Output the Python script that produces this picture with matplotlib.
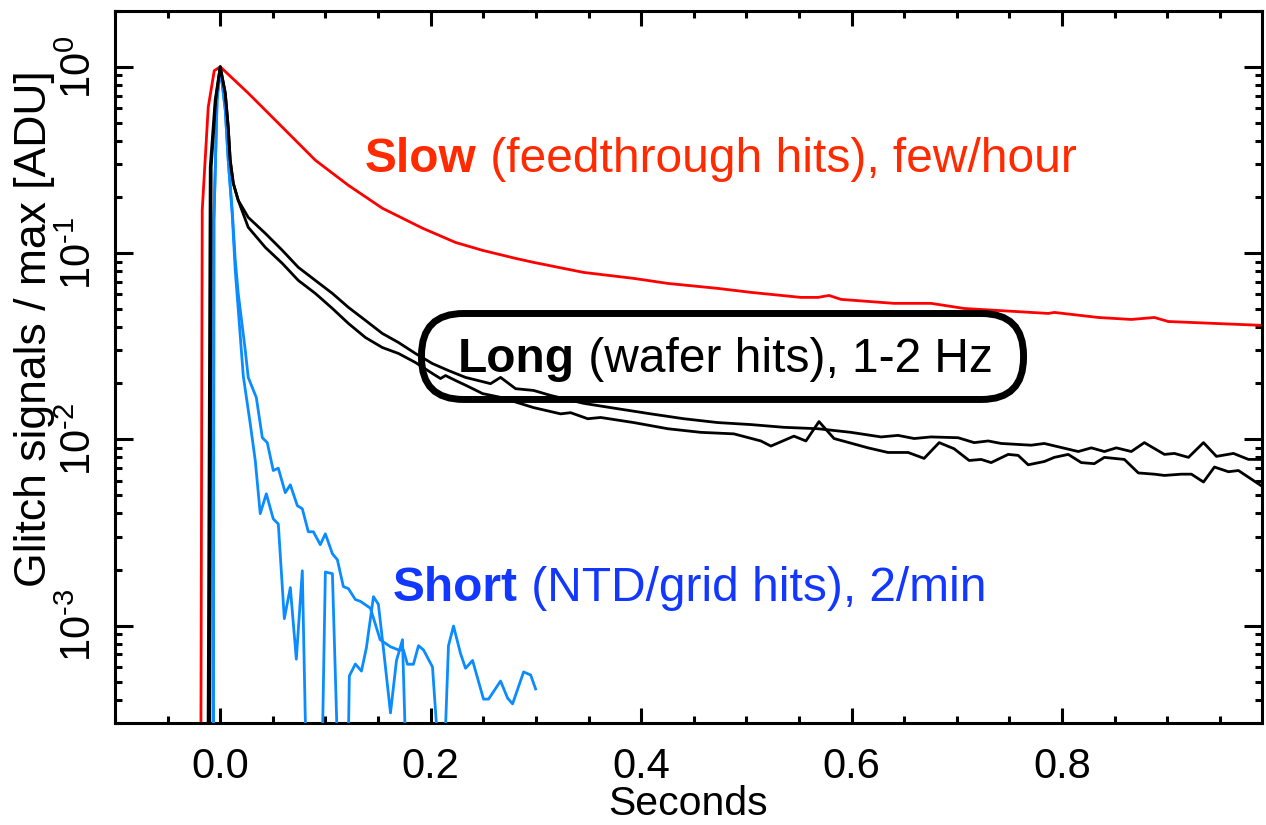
import numpy as np
import matplotlib
matplotlib.use("Agg")
import matplotlib.pyplot as plt
from matplotlib.ticker import MultipleLocator, LogLocator, FuncFormatter, NullFormatter
from matplotlib.patches import FancyBboxPatch
from matplotlib.transforms import offset_copy

plt.rcParams['font.family'] = ['Liberation Sans', 'DejaVu Sans']
plt.rcParams['mathtext.fontset'] = 'custom'
plt.rcParams['mathtext.rm'] = 'Liberation Sans'
plt.rcParams['mathtext.it'] = 'Liberation Sans:italic'
plt.rcParams['mathtext.bf'] = 'Liberation Sans:bold'

# ---------------- data (seconds, normalised signal) ----------------
slow_t = [-0.019, -0.0171, -0.0114, -0.0057, 0.0, 0.0266, 0.059, 0.0904, 0.1218, 0.1541,
          0.1922, 0.2236, 0.2493, 0.2807, 0.2978, 0.3454, 0.393, 0.4253, 0.4729, 0.5043,
          0.5519, 0.568, 0.5785, 0.59, 0.6156, 0.6403, 0.6755, 0.707, 0.7545, 0.7869,
          0.7926, 0.8344, 0.8658, 0.8877, 0.901, 0.9448, 0.99]
slow_v = [1e-5, 0.170, 0.607, 0.952, 1.0, 0.722, 0.474, 0.315, 0.231, 0.174,
          0.136, 0.114, 0.1034, 0.0936, 0.0891, 0.0787, 0.0731, 0.0687, 0.0646, 0.0615,
          0.0578, 0.0578, 0.0592, 0.0564, 0.055, 0.0537, 0.0537, 0.0504, 0.0486, 0.0474,
          0.048, 0.0451, 0.044, 0.0451, 0.0429, 0.0419, 0.0409]

long1_t = [-0.0125, -0.0095, -0.0048, 0.0, 0.0048, 0.0076, 0.0095, 0.0124, 0.0171, 0.0266,
           0.0428, 0.059, 0.0742, 0.0904, 0.1066, 0.1218, 0.138, 0.1541, 0.1694, 0.1855,
           0.2017, 0.2169, 0.2331, 0.2493, 0.2569, 0.2664, 0.2807, 0.2978, 0.314, 0.3454,
           0.3777, 0.4091, 0.4405, 0.4729, 0.5043, 0.5357, 0.568, 0.5994, 0.628, 0.6441,
           0.6594, 0.6755, 0.7012, 0.7165, 0.7298, 0.7422, 0.7707, 0.7831, 0.8154, 0.8278,
           0.8402, 0.8516, 0.8658, 0.8782, 0.8973, 0.9068, 0.9201, 0.9344, 0.9467, 0.9629,
           0.9772, 0.99]
long1_v = [1e-5, 0.289, 0.662, 1.0, 0.722, 0.474, 0.315, 0.237, 0.192, 0.1555,
           0.1276, 0.1034, 0.0838, 0.0713, 0.0607, 0.0511, 0.0435, 0.037, 0.0331, 0.0289,
           0.0255, 0.0234, 0.0215, 0.0204, 0.0199, 0.0215, 0.0187, 0.0183, 0.0172, 0.0156,
           0.0146, 0.0137, 0.0129, 0.0123, 0.0120, 0.0116, 0.0114, 0.0109, 0.0103, 0.0105,
           0.0101, 0.0103, 0.0102, 0.0096, 0.0098, 0.0095, 0.0093, 0.0095, 0.0086, 0.0090,
           0.0086, 0.0090, 0.0086, 0.0096, 0.0083, 0.0084, 0.0080, 0.0096, 0.0081, 0.0084,
           0.0078, 0.0078]

long2_t = [-0.0105, -0.0086, -0.0043, 0.0, 0.0048, 0.0076, 0.0095, 0.0124, 0.0171, 0.0266,
           0.0428, 0.059, 0.0742, 0.0904, 0.1066, 0.1218, 0.138, 0.1541, 0.1694, 0.1855,
           0.2017, 0.2093, 0.2141, 0.2236, 0.235, 0.2493, 0.2664, 0.2978, 0.3235, 0.333,
           0.3492, 0.3616, 0.393, 0.4253, 0.4567, 0.4881, 0.5138, 0.5233, 0.5452, 0.5566,
           0.569, 0.5833, 0.6156, 0.6346, 0.6537, 0.6689, 0.6832, 0.6974, 0.7117, 0.7231,
           0.7326, 0.7488, 0.7583, 0.7678, 0.7831, 0.7926, 0.8059, 0.8183, 0.8306, 0.8402,
           0.8592, 0.8725, 0.8877, 0.8973, 0.9134, 0.9229, 0.9344, 0.9448, 0.9581, 0.9676,
           0.99]
long2_v = [1e-5, 0.289, 0.662, 1.0, 0.722, 0.474, 0.315, 0.237, 0.192, 0.1375,
           0.1073, 0.088, 0.0713, 0.0607, 0.0504, 0.0419, 0.0352, 0.0311, 0.0289, 0.02585,
           0.02255, 0.0212, 0.022, 0.0207, 0.0193, 0.0176, 0.0168, 0.0148, 0.0137, 0.0139,
           0.0129, 0.0131, 0.0123, 0.0114, 0.0109, 0.0107, 0.0098, 0.0092, 0.0104, 0.0098,
           0.01245, 0.0101, 0.0090, 0.0085, 0.0085, 0.0079, 0.0096, 0.0089, 0.0077, 0.0078,
           0.0075, 0.0083, 0.0082, 0.0073, 0.0076, 0.0080, 0.0083, 0.0075, 0.0074, 0.0080,
           0.0078, 0.0066, 0.0065, 0.0064, 0.0065, 0.0065, 0.0059, 0.0071, 0.0067, 0.0068,
           0.0056]

short1_t = [-0.0067, -0.006, -0.003, 0.0, 0.0048, 0.0076, 0.0114, 0.0143, 0.0171, 0.0238,
            0.0266, 0.0343, 0.040, 0.0447, 0.0504, 0.0552, 0.0618, 0.0666, 0.0733, 0.078,
            0.0837, 0.0885, 0.0951, 0.0999, 0.1066, 0.1113, 0.117, 0.1218, 0.1284, 0.1332,
            0.1427, 0.152, 0.1618, 0.1694, 0.1741, 0.1779, 0.1836, 0.1884, 0.1932, 0.2017,
            0.2112, 0.2169, 0.2217, 0.2283, 0.2331, 0.2398, 0.2502, 0.255, 0.2664, 0.2731,
            0.2778, 0.2883, 0.295, 0.2997]
short1_v = [1e-5, 0.15, 0.66, 1.0, 0.585, 0.315, 0.17, 0.0914, 0.0607, 0.03,
            0.0215, 0.01676, 0.0102, 0.0096, 0.0068, 0.0070, 0.00517, 0.0057, 0.0044, 0.00424,
            0.00319, 0.00319, 0.00272, 0.00311, 0.00243, 0.00226, 0.00162, 0.00158, 0.00138, 0.00135,
            0.00124, 0.00084, 0.00077, 0.00074, 0.00074, 0.00062, 0.00062, 0.00078, 0.00074, 0.0006,
            1e-4, 0.00078, 0.000995, 0.00071, 0.00059, 0.00065, 0.000403, 0.000403, 0.000504, 0.000408,
            0.00038, 0.000564, 0.000543, 0.000457]

short2_t = [-0.0067, -0.006, -0.003, 0.0, 0.0048, 0.0076, 0.0114, 0.0143, 0.0171, 0.0219,
            0.0285, 0.0333, 0.038, 0.0438, 0.0504, 0.0552, 0.0609, 0.0666, 0.0723, 0.078,
            0.0837, 0.0894, 0.095, 0.0999, 0.1066, 0.1132, 0.118, 0.1227, 0.1284, 0.1342,
            0.1389, 0.1456, 0.1503, 0.1551, 0.1618, 0.1675, 0.1732, 0.1779]
short2_v = [1e-5, 0.15, 0.66, 1.0, 0.585, 0.315, 0.16, 0.08, 0.05, 0.0219,
            0.01215, 0.00768, 0.00399, 0.0051, 0.00374, 0.00351, 0.00109, 0.0016, 0.00066, 0.00197,
            5e-5, 1e-5, 5e-5, 0.00194, 0.0019, 1e-4, 1e-5, 0.000537, 0.000622, 0.00057,
            0.00076, 0.00143, 0.0013, 0.00075, 0.00034, 0.00065, 0.00084, 1e-4]

labels = {
    "slow": ("Slow", " (feedthrough hits), few/hour"),
    "long": ("Long", " (wafer hits), 1-2 Hz"),
    "short": ("Short", " (NTD/grid hits), 2/min"),
}
xlabel = "Seconds"
ylabel = "Glitch signals / max [ADU]"

RED = "#ff0000"
RED_TXT = "#ff2a00"
BLUE = "#0a8cff"
BLUE_TXT = "#1238ff"

# ---------------- figure ----------------
W, H = 1266, 825
fig = plt.figure(figsize=(W / 100, H / 100), dpi=100)
ax = fig.add_axes([115 / W, 1 - 723 / H, 1147 / W, 712.3 / H])

lw = 2.0
ax.plot(slow_t, slow_v, color=RED, lw=lw, zorder=2)
ax.plot(short1_t, short1_v, color=BLUE, lw=lw, zorder=3)
ax.plot(short2_t, short2_v, color=BLUE, lw=lw, zorder=3)
ax.plot(long1_t, long1_v, color="black", lw=lw, zorder=4)
ax.plot(long2_t, long2_v, color="black", lw=lw, zorder=4)

ax.set_yscale("log")
ax.set_xlim(-0.1, 0.99)
ax.set_ylim(3e-4, 2.0)


def ylab(v, p):
    e = int(round(np.log10(v)))
    es = ("\u2010%d" % abs(e)) if e < 0 else "%d" % e
    return r"$\mathregular{10^{%s}}$" % es


ax.xaxis.set_major_locator(MultipleLocator(0.2))
ax.xaxis.set_minor_locator(MultipleLocator(0.05))
ax.xaxis.set_major_formatter(FuncFormatter(lambda v, p: f"{0.0 if abs(v) < 1e-9 else v:.1f}"))
ax.yaxis.set_major_locator(LogLocator(base=10))
ax.yaxis.set_minor_locator(LogLocator(base=10, subs=np.arange(2, 10)))
ax.yaxis.set_minor_formatter(NullFormatter())
ax.yaxis.set_major_formatter(FuncFormatter(ylab))

for s in ax.spines.values():
    s.set_linewidth(2.2)
ax.tick_params(which="both", direction="in", top=True, right=True, width=2.2,
               labelsize=30, colors="black")
ax.tick_params(axis="x", which="major", length=10.5, pad=17)
ax.tick_params(axis="x", which="minor", length=5)
ax.tick_params(axis="y", which="major", length=13, pad=11, labelrotation=90)
ax.tick_params(axis="y", which="minor", length=5)
for lab in ax.get_yticklabels():
    lab.set_va("center")

ax.set_xlabel(xlabel, fontsize=29.5)
ax.xaxis.set_label_coords(0.5, -0.087)
ax.set_ylabel(ylabel, fontsize=32)
ax.yaxis.set_label_coords(-0.052, 0.553)

# ---------------- annotations ----------------
FS = 34.5
fig.canvas.draw()
renderer = fig.canvas.get_renderer()


def mixed(x, y, key, color):
    bold, rest = labels[key]
    t1 = ax.text(x, y, bold, transform=ax.transAxes, fontsize=FS, fontweight="bold",
                 color=color, ha="left", va="baseline", zorder=6)
    w = t1.get_window_extent(renderer).width
    ax.text(x, y, rest, transform=offset_copy(ax.transAxes, fig=fig, x=w, y=0, units="dots"),
            fontsize=FS, color=color, ha="left", va="baseline", zorder=6)


mixed(0.218, 0.7736, "slow", RED_TXT)
mixed(0.299, 0.4928, "long", "black")
mixed(0.2424, 0.1713, "short", BLUE_TXT)

box = FancyBboxPatch((0.2672, 0.4542), 0.5249, 0.1207,
                     boxstyle="round,pad=0,rounding_size=0.0366",
                     mutation_aspect=1147 / 712.3, transform=ax.transAxes,
                     facecolor="none", edgecolor="black", linewidth=5, zorder=5,
                     clip_on=False)
ax.add_patch(box)

fig.savefig("out.png", dpi=100)
